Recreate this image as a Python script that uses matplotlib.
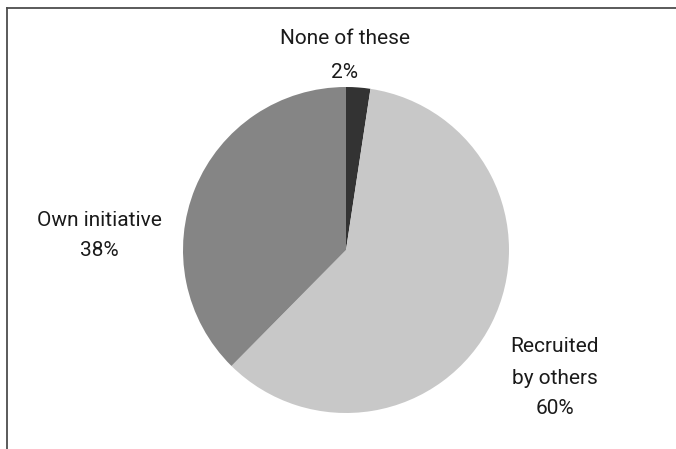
import matplotlib
matplotlib.use("Agg")
import matplotlib.pyplot as plt
from matplotlib.lines import Line2D

labels = ["None of these", "Recruited\nby others", "Own initiative"]
shares = [2.4, 60.0, 37.6]
colors = ["#333333", "#c8c8c8", "#858585"]

plt.rcParams['font.family'] = ['Roboto', 'DejaVu Sans']

W, H = 676, 449
fig = plt.figure(figsize=(W / 100, H / 100), dpi=100)

cx, cy, r = 346, 199, 163   # pie centre (y from bottom) and radius, px
ax = fig.add_axes([(cx - r) / W, (cy - r) / H, 2 * r / W, 2 * r / H])
ax.pie(shares, colors=colors, startangle=90, counterclock=False,
       wedgeprops=dict(linewidth=0))
ax.set_xlim(-1, 1)
ax.set_ylim(-1, 1)
ax.set_aspect("equal")
ax.axis("off")

# labels: name and percentage
pos = [(345, 38, 73), (555, 347, 408), (99, 221, 251)]
fs = 15
for lab, val, (x, y1, y2) in zip(labels, shares, pos):
    if "\n" in lab:
        first, second = lab.split("\n")
        fig.text(x / W, 1 - y1 / H, first, ha="center", va="center", fontsize=fs, color="#1a1a1a")
        fig.text(x / W, 1 - (y1 + 31) / H, second, ha="center", va="center", fontsize=fs, color="#1a1a1a")
    else:
        fig.text(x / W, 1 - y1 / H, lab, ha="center", va="center", fontsize=fs, color="#1a1a1a")
    fig.text(x / W, 1 - y2 / H, "%.0f%%" % val, ha="center", va="center", fontsize=fs, color="#1a1a1a")

# frame (cropped box)
fig.add_artist(Line2D([7 / W, 1], [1 - 8 / H, 1 - 8 / H], color="#4d4d4d", lw=1.3))
fig.add_artist(Line2D([7 / W, 7 / W], [0, 1 - 8 / H], color="#4d4d4d", lw=1.3))

fig.savefig("out.png", dpi=100)
